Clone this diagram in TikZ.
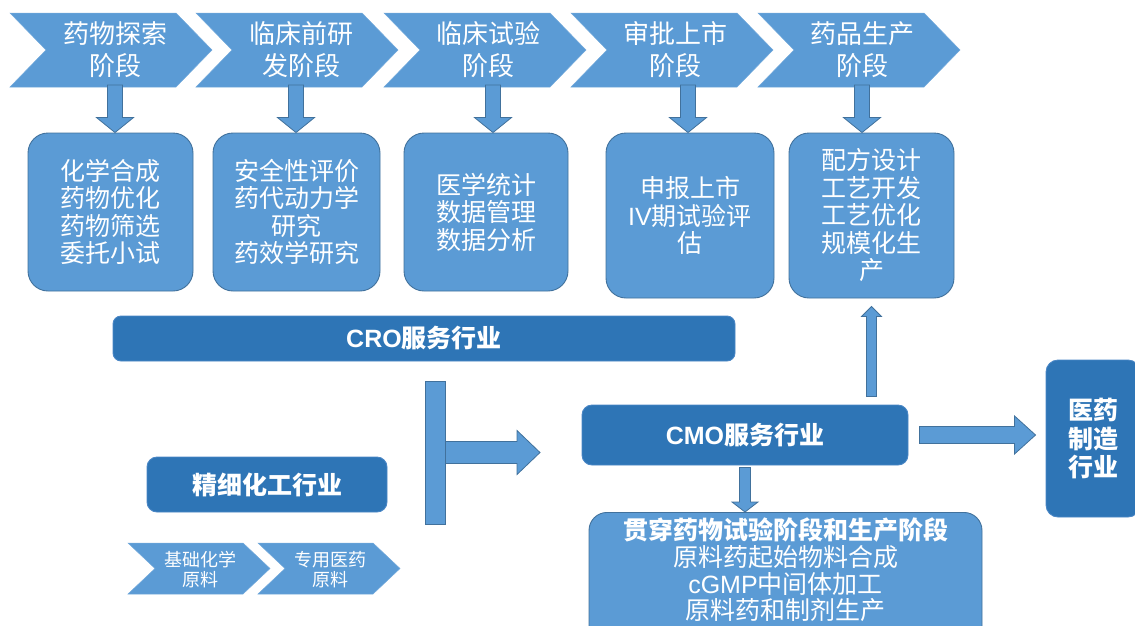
\documentclass[tikz,border=0pt]{standalone}
\usepackage{fontspec}
\setmainfont{Noto Sans CJK SC}
\newfontfamily\latn{Liberation Sans}
\usetikzlibrary{calc}
\definecolor{lb}{HTML}{5B9BD5}
\definecolor{lbd}{HTML}{41719C}
\definecolor{db}{HTML}{2E75B6}
\definecolor{dbd}{HTML}{4A86C5}
\tikzset{
 lightbox/.style={draw=lbd, line width=0.9pt, fill=lb, rounded corners=20pt, text=white, align=center, font=\fontsize{25}{27.5}\selectfont, inner sep=0pt},
 darkbox/.style={draw=dbd, line width=0.9pt, fill=db, rounded corners=10pt, text=white, align=center, font=\bfseries\fontsize{25}{28.5}\selectfont, inner sep=0pt},
 chevtext/.style={text=white, align=center, font=\fontsize{26}{32}\selectfont, inner sep=0pt},
 smalltext/.style={text=white, align=center, font=\fontsize{18}{20}\selectfont, inner sep=0pt},
 chevfill/.style={fill=lb, draw=lb!85!white, line width=0.5pt},
 barrow/.style={fill=lb, draw=lbd, line width=0.8pt, line join=miter},
}
\newcommand{\barrowdraw}[5]{%
 \coordinate (hb) at ($(#2)!#5!(#1)$);
 \path[barrow] ($(#1)!#3!90:(#2)$) -- ($(hb)!#3!90:(#2)$) -- ($(hb)!#4!90:(#2)$) -- (#2) -- ($(hb)!#4!-90:(#2)$) -- ($(hb)!#3!-90:(#2)$) -- ($(#1)!#3!-90:(#2)$) -- cycle;
}
\newcommand{\chevshape}[6]{%
 \path[#6] (#1,#2) -- ++(#4,0) -- ++(#5,{(#3-#2)/2}) -- ++(-#5,{(#3-#2)/2}) -- ++(-#4,0) -- ++(#5,{-(#3-#2)/2}) -- cycle;
}
\begin{document}
\begin{tikzpicture}[x=1pt,y=-1pt]
\useasboundingbox (0,0) rectangle (1135,625);
\clip (0,0) rectangle (1135,625);
% top chevrons
\foreach \L in {10,196,384,571,758} { \chevshape{\L}{13}{87}{166}{36}{chevfill} }
\node[chevtext] (ch1) at (115,50) {药物探索\\阶段};
\node[chevtext] (ch2) at (301,50) {临床前研\\发阶段};
\node[chevtext] (ch3) at (488,50) {临床试验\\阶段};
\node[chevtext] (ch4) at (675,50) {审批上市\\阶段};
\node[chevtext] (ch5) at (862,50) {药品生产\\阶段};
% stage boxes
\node[lightbox, minimum width=165pt, minimum height=158pt] (b1) at (110.5,212) {化学合成\\药物优化\\药物筛选\\委托小试};
\node[lightbox, minimum width=167pt, minimum height=158pt] (b2) at (296.5,212) {安全性评价\\药代动力学\\研究\\药效学研究};
\node[lightbox, minimum width=164pt, minimum height=158pt] (b3) at (486,212) {医学统计\\数据管理\\数据分析};
\node[lightbox, minimum width=168pt, minimum height=165pt] (b4) at (690,215.5) {申报上市\\{\latn IV}期试验评\\估};
\node[lightbox, minimum width=165pt, minimum height=165pt] (b5) at (871.5,215.5) {配方设计\\工艺开发\\工艺优化\\规模化生\\产};
% down arrows from chevrons
\coordinate (a1s) at (115,85); \coordinate (a1e) at (a1s |- b1.north);
\coordinate (a2s) at (296,85); \coordinate (a2e) at (a2s |- b2.north);
\coordinate (a3s) at (493,85); \coordinate (a3e) at (a3s |- b3.north);
\coordinate (a4s) at (688,85); \coordinate (a4e) at (a4s |- b4.north);
\coordinate (a5s) at (862,85); \coordinate (a5e) at (a5s |- b5.north);
\barrowdraw{a1s}{a1e}{7.5pt}{18.5pt}{15pt}
\barrowdraw{a2s}{a2e}{7.5pt}{18.5pt}{15pt}
\barrowdraw{a3s}{a3e}{7.5pt}{18.5pt}{15pt}
\barrowdraw{a4s}{a4e}{7.5pt}{18.5pt}{15pt}
\barrowdraw{a5s}{a5e}{7.5pt}{18.5pt}{15pt}
% industry boxes
\node[darkbox, rounded corners=8pt, minimum width=622pt, minimum height=45pt] (cro) at (424,338.5) {{\latn CRO}服务行业};
\node[darkbox, minimum width=240pt, minimum height=55pt] (fine) at (267,484.5) {精细化工行业};
\node[darkbox, minimum width=326pt, minimum height=60pt] (cmo) at (745,435) {{\latn CMO}服务行业};
\node[darkbox, rounded corners=12pt, minimum width=94pt, minimum height=157pt] (yy) at (1093,438.5) {医药\\制造\\行业};
\node[lightbox, rounded corners=18pt, minimum width=393pt, minimum height=140pt, anchor=north] (gc) at (785.5,512) {};
\node[text=white, align=center, font=\fontsize{25}{26.7}\selectfont, inner sep=0pt] (gct) at (785.5,570) {\textbf{贯穿药物试验阶段和生产阶段}\\原料药起始物料合成\\{\latn cGMP}中间体加工\\原料药和制剂生产};
% small chevrons
\chevshape{128}{543}{594}{115}{27}{chevfill}
\chevshape{258}{543}{594}{115}{27}{chevfill}
\node[smalltext] (sc1) at (200,569.5) {基础化学\\原料};
\node[smalltext] (sc2) at (330,569.5) {专用医药\\原料};
% T connector
\coordinate (ts) at (444,452.5);
\coordinate (te) at (540,452.5);
\barrowdraw{ts}{te}{11pt}{22pt}{23pt}
\node[draw=lbd, fill=lb, line width=0.8pt, minimum width=20pt, minimum height=143pt, inner sep=0pt] (tbar) at (435,452.5) {};
% CMO -> manufacturing
\coordinate (r1s) at ([xshift=11pt]cmo.east);
\coordinate (tmp1) at (r1s -| yy.west);
\coordinate (r1e) at ([xshift=-10pt]tmp1);
\barrowdraw{r1s}{r1e}{8.5pt}{19pt}{21pt}
% CMO -> gc
\coordinate (d1s) at ([yshift=-2pt]cmo.south);
\coordinate (d1e) at (d1s |- gc.north);
\barrowdraw{d1s}{d1e}{5.5pt}{13pt}{10pt}
% CMO -> b5
\coordinate (tmp2) at (cmo.north -| b5.south);
\coordinate (u1s) at ([yshift=8pt]tmp2);
\coordinate (u1e) at ([yshift=-8pt]b5.south);
\barrowdraw{u1s}{u1e}{5pt}{10pt}{10pt}
\end{tikzpicture}
\end{document}
